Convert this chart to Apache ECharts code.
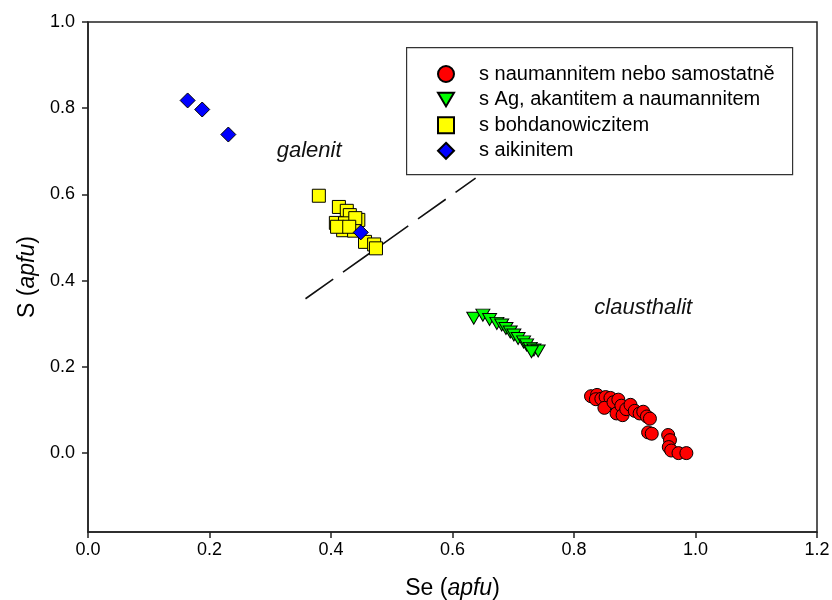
<!DOCTYPE html>
<html>
<head>
<meta charset="utf-8">
<script src="https://cdn.jsdelivr.net/npm/echarts@6/dist/echarts.min.js"></script>
<style>
html,body{margin:0;padding:0;background:#fff;}
#chart{width:832px;height:600px;}
</style>
</head>
<body>
<div id="chart"></div>
<script>
// ---- data ----
const seriesNames = [
  's naumannitem nebo samostatně',
  's Ag, akantitem a naumannitem',
  's bohdanowiczitem',
  's aikinitem'
];
const naumannitData = [
  [0.828,0.132],[0.838,0.135],[0.836,0.125],[0.845,0.126],[0.852,0.130],[0.860,0.128],
  [0.850,0.105],[0.865,0.118],[0.873,0.124],[0.870,0.092],[0.878,0.110],[0.880,0.088],
  [0.886,0.102],[0.893,0.112],[0.900,0.098],[0.908,0.092],[0.914,0.096],[0.920,0.085],
  [0.925,0.080],[0.922,0.048],[0.928,0.045],[0.955,0.042],[0.958,0.030],[0.956,0.014],
  [0.960,0.006],[0.972,0.000],[0.985,0.000]
];
const agData = [
  [0.635,0.313],[0.650,0.320],[0.661,0.310],[0.673,0.301],[0.681,0.297],[0.688,0.289],
  [0.695,0.281],[0.701,0.274],[0.708,0.266],[0.717,0.258],[0.722,0.251],[0.728,0.243],
  [0.734,0.239],[0.741,0.237],[0.730,0.235]
];
const bohdanowiczitData = [
  [0.380,0.597],[0.413,0.571],[0.426,0.562],[0.431,0.552],[0.445,0.541],[0.408,0.534],
  [0.423,0.533],[0.420,0.517],[0.410,0.525],[0.438,0.516],[0.440,0.545],[0.430,0.525],
  [0.456,0.490],[0.471,0.484],[0.474,0.475]
];
const aikinitData = [
  [0.164,0.818],[0.188,0.797],[0.231,0.739],[0.449,0.512]
];
const boundaryLine = [[0.358,0.358],[0.638,0.638]];
const annotations = [
  {name:'galenit', value:[0.364,0.701]},
  {name:'clausthalit', value:[0.914,0.336]}
];
const yTickValues = [0.0,0.2,0.4,0.6,0.8,1.0];
const xMin = 0, xMax = 1.2, xStep = 0.2;
const yMin = -0.183, yMax = 1.0;

// ---- chart ----
const chart = echarts.init(document.getElementById('chart'), null, {renderer:'canvas'});
const FONT = 'Liberation Sans, Arial, sans-serif';
const axisColor = '#222';
const triDown = 'path://M0,0 L20,0 L10,17 Z';
const titleRich = {
  n: {fontSize: 23, fontFamily: FONT, color: '#000'},
  i: {fontSize: 23, fontStyle: 'italic', fontFamily: FONT, color: '#000'}
};

const option = {
  animation: false,
  backgroundColor: '#fff',
  textStyle: {fontFamily: FONT},
  grid: {left: 88, right: 15, top: 22, bottom: 68, containLabel: false, outerBoundsMode: 'none',
         show: true, borderColor: axisColor, borderWidth: 1.5, backgroundColor: 'transparent'},
  xAxis: {
    type: 'value', min: xMin, max: xMax, interval: xStep,
    name: '{n|Se (}{i|apfu}{n|)}', nameLocation: 'middle', nameGap: 45,
    nameTextStyle: {rich: titleRich},
    axisLine: {show: true, onZero: false, lineStyle: {color: axisColor, width: 1.5}},
    axisTick: {show: true, inside: false, length: 6, lineStyle: {color: axisColor, width: 1.5}},
    axisLabel: {fontSize: 18, color: '#000', margin: 9, fontFamily: FONT, formatter: v => v.toFixed(1)},
    splitLine: {show: false}
  },
  yAxis: {
    type: 'value', min: yMin, max: yMax,
    name: '{n|S (}{i|apfu}{n|)}', nameLocation: 'middle', nameGap: 42, nameRotate: 90,
    nameTextStyle: {rich: titleRich},
    axisLine: {show: true, onZero: false, lineStyle: {color: axisColor, width: 1.5}},
    axisTick: {show: true, inside: false, length: 6, customValues: yTickValues, lineStyle: {color: axisColor, width: 1.5}},
    axisLabel: {fontSize: 18, color: '#000', margin: 13, fontFamily: FONT, customValues: yTickValues, formatter: v => v.toFixed(1)},
    splitLine: {show: false}
  },
  legend: {
    show: true, orient: 'vertical', left: 437, top: 64,
    data: seriesNames,
    itemWidth: 16, itemHeight: 16, itemGap: 5.6,
    padding: 0,
    textStyle: {fontSize: 20, color: '#000', fontFamily: FONT, lineHeight: 16, padding: [0, 0, 0, 20]}
  },
  graphic: [{
    type: 'rect', left: 406, top: 47, z: -1,
    shape: {width: 386, height: 127},
    style: {fill: '#fff', stroke: '#333', lineWidth: 1.2}
  }],
  series: [
    {
      name: 'boundary', type: 'line', data: boundaryLine, symbol: 'none', silent: true,
      lineStyle: {color: '#111', width: 1.6, type: [34, 12]}, z: 1
    },
    {
      name: seriesNames[0], type: 'scatter', data: naumannitData, symbol: 'circle', symbolSize: 13,
      itemStyle: {color: '#ff0000', borderColor: '#000', borderWidth: 1, opacity: 1}, z: 2
    },
    {
      name: seriesNames[1], type: 'scatter', data: agData, symbol: triDown, symbolSize: [14, 12],
      itemStyle: {color: '#00ff00', borderColor: '#000', borderWidth: 1, opacity: 1}, z: 2
    },
    {
      name: seriesNames[2], type: 'scatter', data: bohdanowiczitData, symbol: 'rect', symbolSize: 13,
      itemStyle: {color: '#ffff00', borderColor: '#000', borderWidth: 1, opacity: 1}, z: 2
    },
    {
      name: seriesNames[3], type: 'scatter', data: aikinitData, symbol: 'diamond', symbolSize: [15, 15],
      itemStyle: {color: '#0000ff', borderColor: '#000', borderWidth: 1, opacity: 1}, z: 3
    },
    {
      name: 'annotations', type: 'scatter', data: annotations, symbolSize: 0, silent: true,
      itemStyle: {opacity: 1},
      label: {show: true, position: 'inside', formatter: p => p.name, fontSize: 22, fontStyle: 'italic', color: '#111', opacity: 1, fontFamily: FONT},
      z: 4
    }
  ]
};
chart.setOption(option);
</script>
</body>
</html>
